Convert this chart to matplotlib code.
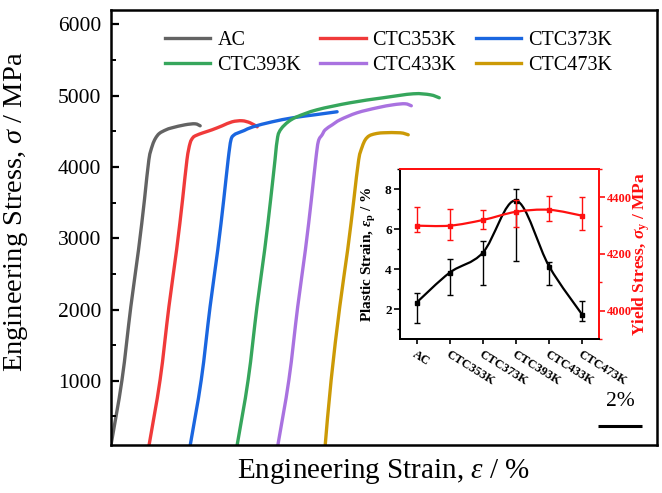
import numpy as np
import matplotlib
matplotlib.use("Agg")
import matplotlib.pyplot as plt
from matplotlib.path import Path
from matplotlib.patches import PathPatch
from matplotlib.lines import Line2D
from matplotlib.ticker import MultipleLocator, NullLocator
import matplotlib.transforms as mtransforms

plt.rcParams['font.family'] = ['Liberation Serif', 'DejaVu Serif']
plt.rcParams['mathtext.fontset'] = 'custom'
plt.rcParams['mathtext.rm'] = 'Liberation Serif'
plt.rcParams['mathtext.it'] = 'Liberation Serif:italic'
plt.rcParams['mathtext.bf'] = 'Liberation Serif:bold'
plt.rcParams['mathtext.bfit'] = 'Liberation Serif:italic:bold'

# ---------------- data: stress-strain curves ----------------
ac_strain = [0, 0.5, 0.9, 1.25, 1.52, 1.72, 1.88, 2.02, 2.2, 2.5, 2.77, 3.36, 3.82, 4.05]
ac_stress = [100, 1014, 2038, 2837, 3539, 4100, 4300, 4400, 4470, 4520, 4548, 4590, 4604, 4576]

c353_strain = [1.73, 2.23, 2.63, 2.98, 3.25, 3.45, 3.59, 3.72, 3.86, 4.18, 4.59, 5.05, 5.5, 5.95, 6.32, 6.64]
c353_stress = [100, 1014, 2038, 2837, 3539, 4100, 4330, 4410, 4440, 4478, 4520, 4576, 4632, 4647, 4618, 4562]

c373_strain = [3.6, 4.1, 4.5, 4.85, 5.12, 5.32, 5.45, 5.6, 5.8, 6.05, 6.45, 7.32, 8.27, 9.27, 10.27]
c373_stress = [100, 1014, 2038, 2837, 3539, 4100, 4380, 4450, 4480, 4510, 4562, 4632, 4689, 4731, 4773]

c393_strain = [5.73, 6.23, 6.63, 6.98, 7.25, 7.45, 7.57, 7.73, 8.05, 8.45, 9.36, 10.86, 12.36, 13.73, 14.5, 14.91]
c393_stress = [100, 1014, 2038, 2837, 3539, 4100, 4420, 4534, 4632, 4703, 4801, 4899, 4969, 5025, 5011, 4969]

c433_strain = [7.58, 8.08, 8.48, 8.83, 9.1, 9.3, 9.42, 9.59, 9.73, 10.05, 10.41, 11.18, 12.09, 12.82, 13.36, 13.64]
c433_stress = [100, 1014, 2038, 2837, 3539, 4100, 4360, 4450, 4520, 4590, 4661, 4759, 4829, 4871, 4885, 4857]

c473_strain = [9.73, 10.0, 10.39, 10.75, 11.03, 11.25, 11.41, 11.55, 11.73, 12.0, 12.36, 13.14, 13.5]
c473_stress = [100, 1014, 2038, 2837, 3539, 4100, 4282, 4380, 4436, 4464, 4478, 4478, 4450]

labels = ['AC', 'CTC353K', 'CTC373K', 'CTC393K', 'CTC433K', 'CTC473K']
colors = ['#636363', '#f03a3a', '#1a66e0', '#36a65c', '#a972e0', '#cc9a06']

# ---------------- data: inset ----------------
categories = ['AC', 'CTC353K', 'CTC373K', 'CTC393K', 'CTC433K', 'CTC473K']
plastic_strain = [2.32, 3.82, 4.82, 7.42, 4.12, 1.70]
plastic_hi = [2.82, 4.50, 5.40, 8.00, 4.37, 2.40]
plastic_lo = [1.32, 2.70, 3.20, 4.40, 3.20, 1.40]
yield_stress = [4300, 4300, 4320, 4349, 4356, 4335]
yield_hi = [4365, 4360, 4354, 4392, 4405, 4400]
yield_lo = [4279, 4249, 4288, 4294, 4316, 4284]

scale_bar = [22.14, 24.14]
scale_bar_y = 369


def smooth_path(xs, ys):
    """Catmull-Rom curve through the points, as cubic Bezier segments."""
    pts = np.column_stack([xs, ys]).astype(float)
    n = len(pts)
    verts = [pts[0]]
    codes = [Path.MOVETO]
    for i in range(n - 1):
        p0 = pts[i - 1] if i > 0 else pts[i]
        p1 = pts[i]
        p2 = pts[i + 1]
        p3 = pts[i + 2] if i + 2 < n else pts[i + 1]
        c1 = p1 + (p2 - p0) / 6.0
        c2 = p2 - (p3 - p1) / 6.0
        verts += [c1, c2, p2]
        codes += [Path.CURVE4] * 3
    return Path(verts, codes)


fig = plt.figure(figsize=(6.62, 4.93), dpi=100)
ax = fig.add_axes([111 / 662, 1 - 445 / 493, 546 / 662, 435 / 493])

series = [(ac_strain, ac_stress), (c353_strain, c353_stress), (c373_strain, c373_stress),
          (c393_strain, c393_stress), (c433_strain, c433_stress), (c473_strain, c473_stress)]
handles = []
for (xs, ys), lab, col in zip(series, labels, colors):
    patch = PathPatch(smooth_path(xs, ys), facecolor='none', edgecolor=col, lw=2.4,
                      capstyle='round', joinstyle='round')
    ax.add_patch(patch)
    handles.append(Line2D([], [], color=col, lw=2.4, label=lab))

ax.set_xlim(0, 24.8)
ax.set_ylim(100, 6200)
ax.yaxis.set_major_locator(MultipleLocator(1000))
ax.yaxis.set_minor_locator(MultipleLocator(500))
ax.set_yticks([1000, 2000, 3000, 4000, 5000, 6000])
ax.xaxis.set_major_locator(NullLocator())
ax.xaxis.set_minor_locator(NullLocator())
ax.tick_params(axis='y', which='major', direction='in', length=6, width=1.6, labelsize=15.5, pad=7)
ax.tick_params(axis='y', which='minor', direction='in', length=3.5, width=1.4)
for sp in ax.spines.values():
    sp.set_linewidth(1.8)

ax.set_ylabel('Engineering Stress, $\\sigma$ / MPa', fontsize=20.5)
ax.yaxis.set_label_coords(-0.148, 0.535)
ax.set_xlabel('Engineering Strain, $\\varepsilon$ / %', fontsize=21)
ax.xaxis.label.set_va('center')
ax.xaxis.set_label_coords(0.5, -0.06)

order = [0, 3, 1, 4, 2, 5]
leg = ax.legend([handles[i] for i in order], [labels[i] for i in order], ncol=3,
                loc='upper left', bbox_to_anchor=((165 - 111) / 546, (445 - 31) / 435),
                frameon=False, fontsize=14.5, handlelength=2.25, handletextpad=0.35,
                columnspacing=0.95, labelspacing=0.3, borderpad=0, borderaxespad=0)

# scale bar
ax.plot(scale_bar, [scale_bar_y, scale_bar_y], color='black', lw=2.2, solid_capstyle='butt')
ax.text(np.mean(scale_bar), 705, '2%', ha='center', va='center', fontsize=15.5)

# ---------------- inset ----------------
axi = fig.add_axes([400 / 662, 1 - 339 / 493, 199 / 662, 170 / 493])
xpos = np.arange(len(categories))
err_p = [np.array(plastic_strain) - np.array(plastic_lo), np.array(plastic_hi) - np.array(plastic_strain)]
axi.add_patch(PathPatch(smooth_path(xpos, plastic_strain), facecolor='none', edgecolor='black', lw=1.6))
axi.errorbar(xpos, plastic_strain, yerr=err_p, fmt='s', color='black', ms=3.5, capsize=2.5,
             elinewidth=1.0, capthick=1.0)
axi.set_xlim(-0.5, 5.5)
axi.set_ylim(0.5, 9)
axi.yaxis.set_major_locator(MultipleLocator(2))
axi.yaxis.set_minor_locator(MultipleLocator(1))
axi.set_yticks([2, 4, 6, 8])
axi.set_xticks(xpos)
axi.set_xticklabels(categories, rotation=-32, ha='left', va='top', rotation_mode='anchor',
                    fontsize=9, fontweight='bold')
offset = mtransforms.ScaledTranslation(-5 / 100, 0, fig.dpi_scale_trans)
for lbl in axi.get_xticklabels():
    lbl.set_transform(lbl.get_transform() + offset)
axi.tick_params(axis='y', which='major', direction='out', length=4, width=1.2, labelsize=9.5, pad=2)
axi.tick_params(axis='y', which='minor', direction='out', length=2.5, width=1.0)
axi.tick_params(axis='x', which='major', direction='out', length=3.5, width=1.2, pad=3)
for lbl in axi.get_yticklabels():
    lbl.set_fontweight('bold')
axi.set_ylabel('Plastic Strain, $\\mathbfit{\\varepsilon}_{\\mathbf{p}}$ / %', fontsize=11, fontweight='bold')
axi.yaxis.set_label_coords(-0.11, 0.5)

axr = axi.twinx()
err_y = [np.array(yield_stress) - np.array(yield_lo), np.array(yield_hi) - np.array(yield_stress)]
axr.add_patch(PathPatch(smooth_path(xpos, yield_stress), facecolor='none', edgecolor='#ff1010', lw=1.6))
axr.errorbar(xpos, yield_stress, yerr=err_y, fmt='s', color='#ff1010', ms=3.5, capsize=2.5,
             elinewidth=1.0, capthick=1.0)
axr.set_ylim(3900, 4500)
axr.set_yticks([4000, 4200, 4400])
axr.yaxis.set_minor_locator(MultipleLocator(100))
axr.tick_params(axis='y', which='major', direction='out', length=4, width=1.2, labelsize=9,
                colors='#ff1010', pad=2)
axr.tick_params(axis='y', which='minor', direction='out', length=2.5, width=1.0, colors='#ff1010')
for lbl in axr.get_yticklabels():
    lbl.set_fontweight('bold')
axr.set_ylabel('Yield Stress, $\\mathbfit{\\sigma}_{\\mathbf{y}}$ / MPa', fontsize=12.5,
               fontweight='bold', color='#ff1010')
axr.yaxis.set_label_coords(1.16, 0.5)

for a in (axi, axr):
    a.spines['left'].set_color('black')
    a.spines['bottom'].set_color('black')
    a.spines['top'].set_color('#ff1010')
    a.spines['right'].set_color('#ff1010')
    for sp in a.spines.values():
        sp.set_linewidth(1.4)

fig.savefig('out.png', dpi=100)
